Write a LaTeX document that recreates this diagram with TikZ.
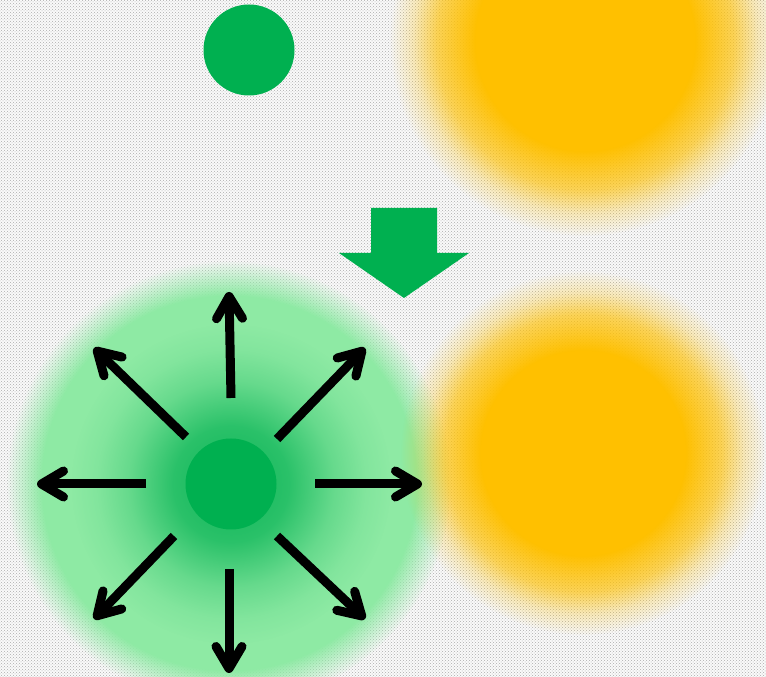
\documentclass[tikz,border=0pt]{standalone}
\usepackage{tikz}
\usetikzlibrary{arrows.meta, fadings, patterns}

\definecolor{dotgreen}{HTML}{00B050}
\definecolor{glowgreen}{RGB}{142,234,164}
\definecolor{bloborange}{HTML}{FFC000}

% soft edged disc and soft glow
\pgfdeclareradialshading{blobshade}{\pgfpointorigin}{color(0bp)=(pgftransparent!0); color(14bp)=(pgftransparent!0); color(19bp)=(pgftransparent!35); color(22bp)=(pgftransparent!75); color(25bp)=(pgftransparent!100); color(50bp)=(pgftransparent!100)}
\pgfdeclarefading{blobfade}{\pgfuseshading{blobshade}}
\pgfdeclareradialshading{haloshade}{\pgfpointorigin}{color(0bp)=(pgftransparent!0); color(21bp)=(pgftransparent!0); color(25bp)=(pgftransparent!100); color(50bp)=(pgftransparent!100)}
\pgfdeclarefading{halofade}{\pgfuseshading{haloshade}}
\pgfdeclareradialshading{coreshade}{\pgfpointorigin}{color(0bp)=(pgftransparent!10); color(9bp)=(pgftransparent!30); color(16bp)=(pgftransparent!72); color(21bp)=(pgftransparent!92); color(25bp)=(pgftransparent!100); color(50bp)=(pgftransparent!100)}
\pgfdeclarefading{corefade}{\pgfuseshading{coreshade}}

\begin{document}
\begin{tikzpicture}[
  x=1pt, y=1pt,
  dot/.style={circle, fill=dotgreen, minimum size=91pt, inner sep=0pt},
  blob/.style={fill=bloborange, path fading=blobfade},
  ray/.style={-{Straight Barb[length=22pt, width=26pt, round]}, line width=9pt, black}
]

% background
\fill[gray!4] (0,0) rectangle (766,677);
\fill[pattern=crosshatch dots, pattern color=gray!65] (0,0) rectangle (766,677);
\useasboundingbox (0,0) rectangle (766,677);

% glow round the lower dot
\fill[glowgreen, path fading=halofade] (229,194) circle (222);
\fill[dotgreen, path fading=corefade] (231,193) circle (160);

% orange blobs
\fill[blob] (585,636) circle (195);
\fill[blob] (583,224) circle (182);

% dots
\node[dot] (src) at (249,627) {};
\node[dot] (emit) at (231,193) {};

% drop arrow
\coordinate (drop) at (404,469);
\fill[dotgreen] (drop) ++(-33,0) -- ++(66,0) -- ++(0,-45) -- ++(32,0)
  -- ++(-65,-45) -- ++(-65,45) -- ++(32,0) -- cycle;

% rays
\coordinate (n0) at (231,279);  \coordinate (n1) at (229,385);
\coordinate (ne0) at (277,238); \coordinate (ne1) at (365,329);
\coordinate (e0) at (315,193);  \coordinate (e1) at (422,193);
\coordinate (se0) at (277,141); \coordinate (se1) at (365,58);
\coordinate (s0) at (229,108);  \coordinate (s1) at (229,4);
\coordinate (sw0) at (174,141); \coordinate (sw1) at (94,58);
\coordinate (w0) at (146,193);  \coordinate (w1) at (37,193);
\coordinate (nw0) at (186,240); \coordinate (nw1) at (94,329);
\draw[ray] (n0) -- (n1);
\draw[ray] (ne0) -- (ne1);
\draw[ray] (e0) -- (e1);
\draw[ray] (se0) -- (se1);
\draw[ray] (s0) -- (s1);
\draw[ray] (sw0) -- (sw1);
\draw[ray] (w0) -- (w1);
\draw[ray] (nw0) -- (nw1);

\end{tikzpicture}
\end{document}
